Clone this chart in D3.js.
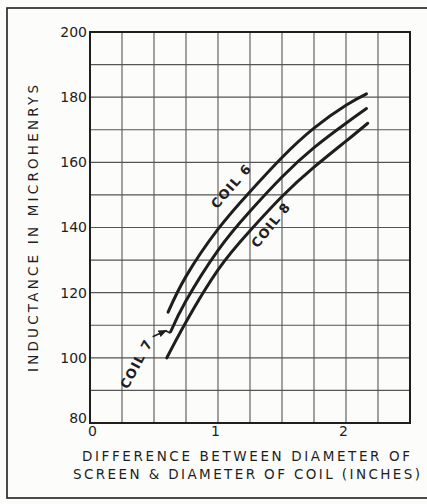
<!DOCTYPE html>
<html>
<head>
<meta charset="utf-8">
<script src="https://cdn.jsdelivr.net/npm/d3@7"></script>
<style>
  html, body { margin: 0; padding: 0; background: #fcfcfa; }
  svg { display: block; }
  text { font-family: "DejaVu Sans", "Liberation Sans", sans-serif; fill: #1e1e1e; }
</style>
</head>
<body>
<svg id="chart" width="427" height="504"></svg>
<script>
// Inductance vs. screen/coil diameter difference, three coils
const coil6X = [0.61, 0.75, 1.0, 1.25, 1.5, 1.75, 2.0, 2.16];
const coil6Y = [114, 125, 139.5, 151, 161.5, 170.5, 177.5, 181];
const coil7X = [0.63, 0.75, 1.0, 1.25, 1.5, 1.75, 2.0, 2.16];
const coil7Y = [108, 117.5, 133, 145, 155.5, 164.5, 172, 176.5];
const coil8X = [0.6, 0.75, 1.0, 1.25, 1.5, 1.75, 2.0, 2.17];
const coil8Y = [100, 111, 127, 139, 149.5, 158.5, 166.5, 172];

const xTickValues = [0, 1, 2];
const yTickValues = [80, 100, 120, 140, 160, 180, 200];
const xDomain = [0, 2.5];
const yDomain = [80, 200];

const yAxisTitle = "INDUCTANCE IN MICROHENRYS";
const xAxisTitle1 = "DIFFERENCE BETWEEN DIAMETER OF";
const xAxisTitle2 = "SCREEN & DIAMETER OF COIL (INCHES)";

// label anchors in data units
const curveLabels = [
  { text: "COIL 6", x: 1.11, y: 152.5, angle: -49 },
  { text: "COIL 8", x: 1.42, y: 140.6, angle: -51 },
  { text: "COIL 7", x: 0.37, y: 98, angle: -62 }
];

const svg = d3.select("#chart");
const ink = "#1e1e1e";

const margin = { left: 90, right: 17, top: 32, bottom: 81 };
const W = 427, H = 504;
const x = d3.scaleLinear().domain(xDomain).range([margin.left, W - margin.right]);
const y = d3.scaleLinear().domain(yDomain).range([H - margin.bottom, margin.top]);

// outer frame
svg.append("rect")
  .attr("x", 7).attr("y", 8).attr("width", 450).attr("height", 490)
  .attr("fill", "none").attr("stroke", ink).attr("stroke-width", 1.6);

// grid
const g = svg.append("g");
g.selectAll("line.vx").data(d3.range(0, 2.5001, 0.25)).join("line")
  .attr("x1", d => x(d)).attr("x2", d => x(d))
  .attr("y1", y(yDomain[0])).attr("y2", y(yDomain[1]))
  .attr("stroke", "#555").attr("stroke-width", 1.1);
g.selectAll("line.hy").data(d3.range(80, 200.001, 10)).join("line")
  .attr("y1", d => y(d)).attr("y2", d => y(d))
  .attr("x1", x(xDomain[0])).attr("x2", x(xDomain[1]))
  .attr("stroke", "#555").attr("stroke-width", 1.1);

// plot border
g.append("rect")
  .attr("x", x(0)).attr("y", y(200))
  .attr("width", x(2.5) - x(0)).attr("height", y(80) - y(200))
  .attr("fill", "none").attr("stroke", ink).attr("stroke-width", 2);

// axes (tick labels only)
const yAxis = d3.axisLeft(y).tickValues(yTickValues).tickSize(0).tickPadding(3);
svg.append("g").attr("transform", `translate(${x(0)},0)`).call(yAxis)
  .call(s => s.select(".domain").remove())
  .selectAll("text").attr("font-size", 14).attr("fill", ink)
  .attr("font-family", "DejaVu Sans, sans-serif")
  .attr("dy", d => d === 80 ? "-0.05em" : "0.32em");

const xAxis = d3.axisBottom(x).tickValues(xTickValues).tickFormat(d3.format("d"))
  .tickSize(0).tickPadding(3);
svg.append("g").attr("transform", `translate(0,${y(80)})`).call(xAxis)
  .call(s => s.select(".domain").remove())
  .selectAll("text").attr("font-size", 14).attr("fill", ink)
  .attr("font-family", "DejaVu Sans, sans-serif")
  .attr("dx", d => d === 0 ? 2 : -3);

// axis titles
svg.append("text")
  .attr("transform", `translate(38,${(85 + 372) / 2}) rotate(-90)`)
  .attr("text-anchor", "middle")
  .attr("font-size", 13.5)
  .attr("textLength", 287).attr("lengthAdjust", "spacing")
  .text(yAxisTitle);

svg.append("text")
  .attr("x", (82 + 410) / 2).attr("y", 461)
  .attr("text-anchor", "middle").attr("font-size", 13.5)
  .attr("textLength", 328).attr("lengthAdjust", "spacing")
  .text(xAxisTitle1);
svg.append("text")
  .attr("x", (73 + 420) / 2).attr("y", 479)
  .attr("text-anchor", "middle").attr("font-size", 13.5)
  .attr("textLength", 347).attr("lengthAdjust", "spacing")
  .text(xAxisTitle2);

// curves
const line = d3.line().x(d => x(d[0])).y(d => y(d[1])).curve(d3.curveNatural);
const series = [
  d3.zip(coil6X, coil6Y),
  d3.zip(coil7X, coil7Y),
  d3.zip(coil8X, coil8Y)
];
svg.append("g").selectAll("path").data(series).join("path")
  .attr("d", line)
  .attr("fill", "none").attr("stroke", ink)
  .attr("stroke-width", 3).attr("stroke-linecap", "round");

// curve labels
svg.append("g").selectAll("text").data(curveLabels).join("text")
  .attr("transform", d => `translate(${x(d.x)},${y(d.y)}) rotate(${d.angle})`)
  .attr("text-anchor", "middle").attr("dominant-baseline", "middle")
  .attr("font-size", 13).attr("font-weight", "bold")
  .attr("letter-spacing", 1.1)
  .text(d => d.text);

// arrow from COIL 7 label to the start of its curve
svg.append("defs").append("marker")
  .attr("id", "head").attr("viewBox", "0 0 10 10")
  .attr("refX", 8).attr("refY", 5)
  .attr("markerWidth", 6).attr("markerHeight", 6).attr("orient", "auto")
  .append("path").attr("d", "M0,1 L10,5 L0,9 Z").attr("fill", ink);
const start7 = [x(coil7X[0]), y(coil7Y[0])];
svg.append("path")
  .attr("d", `M${start7[0] - 18},${start7[1] + 5} L${start7[0] - 5},${start7[1] - 1}`)
  .attr("fill", "none").attr("stroke", ink).attr("stroke-width", 1.5)
  .attr("marker-end", "url(#head)");
svg.append("path")
  .attr("d", `M${start7[0] - 5},${start7[1] - 1} L${start7[0] - 1},${start7[1] + 1} L${start7[0]},${start7[1]}`)
  .attr("fill", "none").attr("stroke", ink).attr("stroke-width", 1.5);
</script>
</body>
</html>
